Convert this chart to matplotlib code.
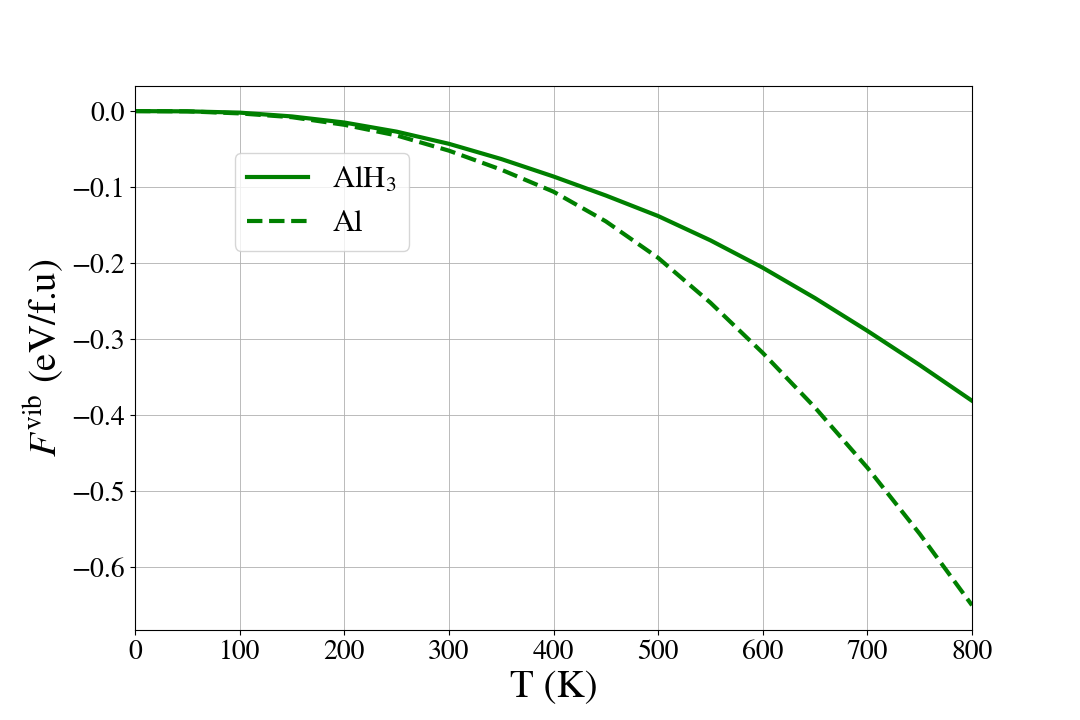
import numpy as np
import matplotlib
matplotlib.use("Agg")
import matplotlib.pyplot as plt

# temperature (K)
T = [0, 50, 100, 150, 200, 250, 300, 350, 400, 450, 500, 550, 600, 650, 700, 750, 800]
# vibrational free energy (eV/f.u)
F_alh3 = [0.0, -0.0003, -0.002, -0.007, -0.015, -0.027, -0.043, -0.063, -0.086,
          -0.111, -0.138, -0.170, -0.206, -0.246, -0.289, -0.334, -0.381]
F_al = [0.0, -0.0003, -0.003, -0.008, -0.018, -0.032, -0.052, -0.077, -0.106,
        -0.145, -0.193, -0.252, -0.318, -0.390, -0.469, -0.556, -0.650]

matplotlib.rc('font', family='STIXGeneral', size=20)
matplotlib.rc('mathtext', fontset='stix')

fig, ax = plt.subplots(1, 1, figsize=(10.8, 7.2), dpi=100)
fig.subplots_adjust(left=0.125, right=0.9, top=0.88, bottom=0.125)

ax.plot(T, F_alh3, color='g', lw=3, ls='-', label=r'AlH$_3$')
ax.plot(T, F_al, color='g', lw=3, ls='--', label='Al')

ax.set_xlim(0, 800)
ax.set_xticks(np.arange(0, 801, 100))
ax.set_yticks([0.0, -0.1, -0.2, -0.3, -0.4, -0.5, -0.6])
ax.grid(True, color='#b0b0b0', lw=0.6)
ax.tick_params(labelsize=20)

ax.set_xlabel('T (K)', fontsize=28)
ax.set_ylabel(r'$F^{\rm vib}$ (eV/f.u)', fontsize=28)

ax.legend(loc='upper left', bbox_to_anchor=(0.119, 0.877), borderaxespad=0,
          fontsize=22, handlelength=2.0)

fig.savefig('out.png', dpi=100)
